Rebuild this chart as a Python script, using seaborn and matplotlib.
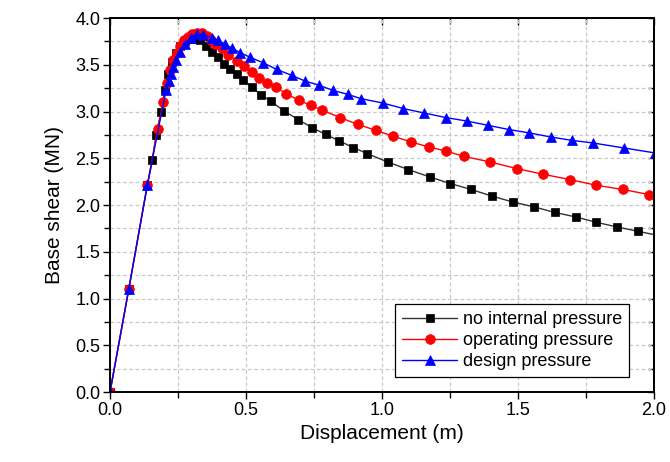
import matplotlib
matplotlib.use("Agg")
import matplotlib.pyplot as plt
from matplotlib.ticker import MultipleLocator
import seaborn as sns

# Pushover curves: displacement (m) vs base shear (MN)
disp_none = [0.0, 0.069, 0.137, 0.156, 0.169, 0.188, 0.202, 0.215, 0.228, 0.242,
             0.258, 0.275, 0.293, 0.312, 0.331, 0.352, 0.374, 0.398, 0.419, 0.441,
             0.466, 0.490, 0.521, 0.555, 0.591, 0.640, 0.693, 0.742, 0.793, 0.843,
             0.895, 0.946, 1.021, 1.097, 1.176, 1.252, 1.328, 1.406, 1.480, 1.559,
             1.636, 1.712, 1.787, 1.863, 1.940, 2.030]
shear_none = [0.0, 1.10, 2.21, 2.48, 2.75, 3.00, 3.23, 3.40, 3.53, 3.63,
              3.70, 3.75, 3.78, 3.78, 3.76, 3.70, 3.64, 3.58, 3.51, 3.45,
              3.40, 3.34, 3.26, 3.18, 3.11, 3.005, 2.913, 2.828, 2.756, 2.685,
              2.614, 2.550, 2.460, 2.379, 2.300, 2.229, 2.166, 2.094, 2.033, 1.980,
              1.920, 1.873, 1.816, 1.766, 1.720, 1.665]

disp_oper = [0.0, 0.069, 0.137, 0.175, 0.196, 0.208, 0.220, 0.232, 0.245, 0.258,
             0.272, 0.287, 0.303, 0.320, 0.338, 0.355, 0.370, 0.386, 0.411, 0.435,
             0.466, 0.494, 0.521, 0.549, 0.578, 0.610, 0.647, 0.695, 0.738, 0.781,
             0.846, 0.911, 0.977, 1.042, 1.107, 1.172, 1.235, 1.300, 1.397, 1.495,
             1.593, 1.691, 1.787, 1.885, 1.983]
shear_oper = [0.0, 1.10, 2.21, 2.81, 3.10, 3.30, 3.44, 3.55, 3.63, 3.70,
              3.76, 3.80, 3.83, 3.845, 3.845, 3.81, 3.77, 3.725, 3.682, 3.607,
              3.54, 3.483, 3.422, 3.362, 3.309, 3.262, 3.191, 3.120, 3.066, 3.013,
              2.935, 2.863, 2.799, 2.735, 2.674, 2.621, 2.578, 2.521, 2.461, 2.390,
              2.329, 2.272, 2.212, 2.166, 2.112]

disp_design = [0.0, 0.069, 0.137, 0.206, 0.216, 0.224, 0.233, 0.243, 0.257, 0.276,
               0.297, 0.319, 0.343, 0.374, 0.398, 0.423, 0.447, 0.478, 0.515, 0.564,
               0.613, 0.668, 0.717, 0.770, 0.819, 0.874, 0.922, 1.003, 1.079, 1.156,
               1.235, 1.312, 1.389, 1.467, 1.542, 1.620, 1.697, 1.775, 1.890, 2.004]
shear_design = [0.0, 1.10, 2.21, 3.23, 3.33, 3.40, 3.48, 3.555, 3.64, 3.72,
                3.79, 3.83, 3.82, 3.79, 3.76, 3.72, 3.68, 3.63, 3.58, 3.52,
                3.45, 3.387, 3.326, 3.280, 3.226, 3.184, 3.138, 3.091, 3.031, 2.984,
                2.935, 2.898, 2.853, 2.807, 2.771, 2.728, 2.692, 2.664, 2.610, 2.557]

labels = ["no internal pressure", "operating pressure", "design pressure"]

sns.set_theme(style="white")
plt.rcParams["font.family"] = ["Liberation Sans", "DejaVu Sans"]
plt.rcParams["text.color"] = "black"
plt.rcParams["axes.labelcolor"] = "black"
plt.rcParams["xtick.color"] = "black"
plt.rcParams["ytick.color"] = "black"

fig = plt.figure(figsize=(6.7, 4.62), dpi=100)
ax = fig.add_axes([0.1642, 0.1515, 0.8118, 0.8095])

series = [
    (disp_none, shear_none, "#000000", "#333333", "s", 5.8, labels[0]),
    (disp_oper, shear_oper, "#ff0000", "#ff0000", "o", 7, labels[1]),
    (disp_design, shear_design, "#0000ff", "#0000ff", "^", 7.5, labels[2]),
]
for x, y, mcol, lcol, mk, ms, lab in series:
    sns.lineplot(x=x, y=y, ax=ax, sort=False, estimator=None, color=lcol,
                 linewidth=1.0, marker=mk, markersize=ms, markerfacecolor=mcol,
                 markeredgecolor=mcol, markeredgewidth=0.5, label=lab,
                 clip_on=True)

ax.set_xlim(0, 2.0)
ax.set_ylim(0, 4.0)
ax.xaxis.set_major_locator(MultipleLocator(0.5))
ax.xaxis.set_minor_locator(MultipleLocator(0.25))
ax.yaxis.set_major_locator(MultipleLocator(0.5))
ax.yaxis.set_minor_locator(MultipleLocator(0.25))
ax.xaxis.set_major_formatter(plt.FormatStrFormatter("%.1f"))
ax.yaxis.set_major_formatter(plt.FormatStrFormatter("%.1f"))

ax.grid(True, which="both", color="#c8c8c8", linestyle=(0, (3, 2)), linewidth=0.9)
ax.set_axisbelow(True)

for s in ax.spines.values():
    s.set_visible(True)
    s.set_color("black")
    s.set_linewidth(1.4)

ax.tick_params(which="both", direction="out", color="black", width=1.0,
               bottom=True, left=True, labelsize=13, labelcolor="black", pad=2)
ax.tick_params(which="major", length=5)
ax.tick_params(which="minor", length=4)
# inward ticks on the top and right frame edges
ax2 = ax.secondary_xaxis("top")
ax2.xaxis.set_major_locator(MultipleLocator(0.5))
ax2.xaxis.set_minor_locator(MultipleLocator(0.25))
ax2.tick_params(which="both", direction="in", labeltop=False, width=1.0)
ax2.tick_params(which="major", length=5)
ax2.tick_params(which="minor", length=4)
ax3 = ax.secondary_yaxis("right")
ax3.yaxis.set_major_locator(MultipleLocator(0.5))
ax3.yaxis.set_minor_locator(MultipleLocator(0.25))
ax3.tick_params(which="both", direction="in", labelright=False, width=1.0, length=4)
for a in (ax2, ax3):
    for s in a.spines.values():
        s.set_linewidth(1.4)

ax.set_xlabel("Displacement (m)", fontsize=15, labelpad=4)
ax.set_ylabel("Base shear (MN)", fontsize=15, labelpad=8)

leg = ax.legend(loc="lower right", bbox_to_anchor=(0.955, 0.04), fontsize=13,
                frameon=True, fancybox=False, framealpha=1, edgecolor="black",
                handlelength=3.0, borderpad=0.4, labelspacing=0.22,
                handletextpad=0.35, borderaxespad=0.0)
leg.get_frame().set_linewidth(0.9)

fig.savefig("out.png", dpi=100)
